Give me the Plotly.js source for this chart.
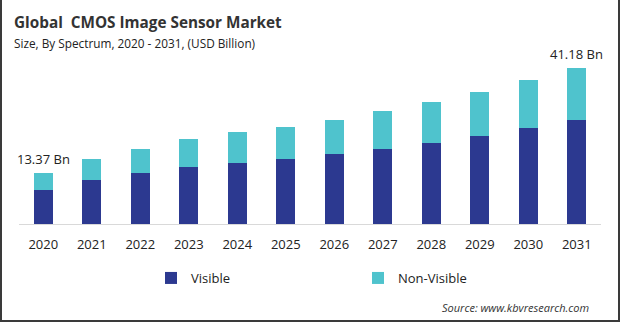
<!DOCTYPE html>
<html>
<head>
<meta charset="utf-8">
<script src="https://cdn.plot.ly/plotly-3.0.1.min.js"></script>
<style>
  body { margin: 0; padding: 0; background: #fff; }
  #wrap { position: relative; width: 620px; height: 322px; }
  #chart { width: 620px; height: 322px; }
  #frame { position: absolute; left: 0; top: 0; width: 620px; height: 322px; box-sizing: border-box;
           border-left: 2px solid #3a3a3a; border-right: 2px solid #3a3a3a; border-bottom: 2px solid #3a3a3a;
           pointer-events: none; }
</style>
</head>
<body>
<div id="wrap"><div id="chart"></div><div id="frame"></div></div>
<script>
const years = ['2020','2021','2022','2023','2024','2025','2026','2027','2028','2029','2030','2031'];
const visible    = [8.9, 11.6, 13.4, 15.0, 16.1, 17.1, 18.4, 19.7, 21.3, 23.2, 25.3, 27.4];
const nonVisible = [4.47, 5.5, 6.3, 7.4, 8.1, 8.4, 8.9, 10.0, 10.8, 11.5, 12.6, 13.78];
const seriesNames = ['Visible', 'Non-Visible'];
const labelYears = ['2020', '2031'];
const labelTexts = ['13.37 Bn', '41.18 Bn'];

const FONT = 'Open Sans, Noto Sans, sans-serif';
const NAVY = '#2c3990';
const CYAN = '#4fc3cd';

const traces = [
  { type: 'bar', x: years, y: visible, name: seriesNames[0], marker: { color: NAVY }, hoverinfo: 'none' },
  { type: 'bar', x: years, y: nonVisible, name: seriesNames[1], marker: { color: CYAN }, hoverinfo: 'none' }
];

const totals = years.map((_, i) => visible[i] + nonVisible[i]);
const annotations = labelYears.map((yr, k) => ({
  x: years.indexOf(yr), y: totals[years.indexOf(yr)], xref: 'x', yref: 'y',
  text: labelTexts[k], showarrow: false, yanchor: 'bottom', yshift: 3,
  font: { family: FONT, size: 13, color: '#222' }
}));

annotations.push(
  { xref: 'paper', yref: 'paper', x: -0.0125, y: (224 - 22) / 171, xanchor: 'left', yanchor: 'middle',
    text: '<b>Global  CMOS Image Sensor Market</b>', showarrow: false,
    font: { family: FONT, size: 15.3, color: '#333' } },
  { xref: 'paper', yref: 'paper', x: -0.0125, y: (224 - 43) / 171, xanchor: 'left', yanchor: 'middle',
    text: 'Size, By Spectrum, 2020 - 2031, (USD Billion)', showarrow: false,
    font: { family: FONT, size: 11.8, color: '#222' } },
  { xref: 'paper', yref: 'paper', x: (591 - 19) / 582, y: (224 - 307) / 171, xanchor: 'right', yanchor: 'middle',
    text: '<i>Source: www.kbvresearch.com</i>', showarrow: false,
    font: { family: FONT, size: 11, color: '#333' } }
);

const layout = {
  width: 620, height: 322,
  margin: { l: 19, r: 19, t: 53, b: 98, pad: 0, autoexpand: false },
  paper_bgcolor: '#fff', plot_bgcolor: '#fff',
  barmode: 'stack', bargap: 0.6,
  showlegend: true,
  legend: {
    orientation: 'h', x: (151 - 19) / 582, xanchor: 'left', y: (224 - 278) / 171, yanchor: 'middle',
    entrywidth: 162, entrywidthmode: 'pixels', traceorder: 'normal',
    font: { family: FONT, size: 13, color: '#222' }, bgcolor: 'rgba(0,0,0,0)'
  },
  xaxis: {
    type: 'category', range: [-0.5, years.length - 0.5], autorange: false,
    showline: true, linecolor: '#d9d9d9', linewidth: 1, automargin: false,
    showgrid: false, zeroline: false, ticks: '', ticklabelstandoff: 8,
    tickfont: { family: FONT, size: 13, color: '#222' }, fixedrange: true
  },
  yaxis: { range: [0, 45], autorange: false, visible: false, automargin: false, showgrid: false, zeroline: false, fixedrange: true },
  annotations: annotations,
  font: { family: FONT }
};

Plotly.newPlot('chart', traces, layout, { displayModeBar: false, staticPlot: true });
</script>
</body>
</html>
